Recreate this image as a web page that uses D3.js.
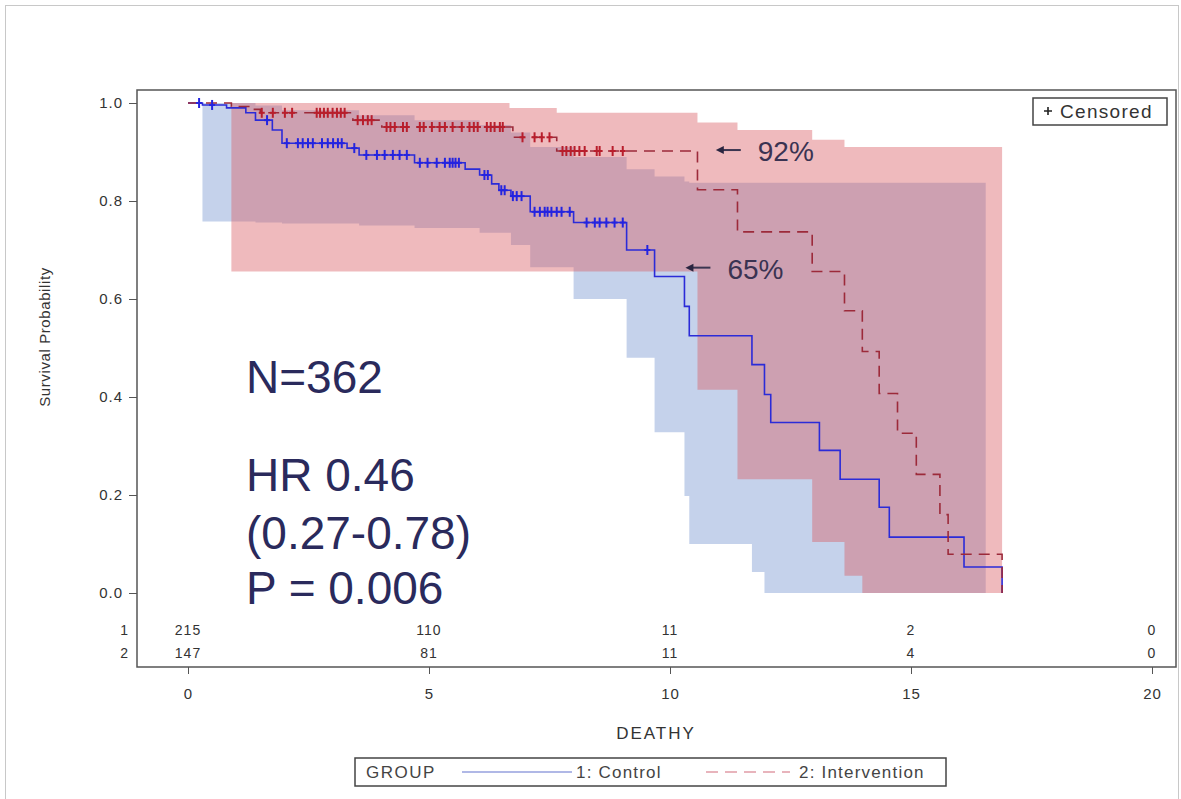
<!DOCTYPE html>
<html>
<head>
<meta charset="utf-8">
<script src="https://cdn.jsdelivr.net/npm/d3@7"></script>
<style>
  body { margin: 0; background: #fff; }
  svg { display: block; font-family: "Liberation Sans", Arial, sans-serif; }
</style>
</head>
<body>
<div id="chart"></div>
<script>
// Kaplan-Meier: survival by group, with confidence bands and at-risk table

// 1: Control (event times, survival after each event)
const controlTimes = [0, 0.3, 0.8, 1.2, 1.4, 1.75, 1.95, 3.3, 3.55, 4.7, 5.75, 6.05, 6.3, 6.45, 6.7, 7.1, 8.0, 9.1, 9.68, 10.3, 10.4, 11.7, 11.96, 12.09, 13.1, 13.53, 14.34, 14.55, 16.1, 16.89];
const controlSurv  = [1, 0.996, 0.99, 0.98, 0.965, 0.945, 0.918, 0.908, 0.894, 0.878, 0.865, 0.853, 0.835, 0.822, 0.81, 0.778, 0.756, 0.70, 0.646, 0.585, 0.525, 0.466, 0.405, 0.348, 0.291, 0.232, 0.175, 0.114, 0.053, 0];
const controlCensored = [0.23, 0.5, 1.64, 2.05, 2.28, 2.38, 2.49, 2.59, 2.78, 2.9, 3.01, 3.11, 3.19, 3.45, 3.7, 3.92, 4.08, 4.25, 4.39, 4.54, 4.81, 4.97, 5.16, 5.33, 5.43, 5.49, 5.55, 5.62, 6.15, 6.22, 6.5, 6.57, 6.74, 6.82, 6.92, 7.19, 7.3, 7.4, 7.46, 7.54, 7.65, 7.75, 7.92, 8.27, 8.44, 8.54, 8.68, 8.85, 9.02, 9.53];
const controlBandTimes = [0.3, 1.4, 1.95, 3.55, 4.7, 6.05, 6.7, 7.1, 8.0, 9.1, 9.68, 10.3, 10.4, 11.7, 11.96, 16.55];
const controlBandLower = [0.758, 0.756, 0.754, 0.75, 0.745, 0.735, 0.71, 0.665, 0.60, 0.48, 0.328, 0.198, 0.10, 0.043, 0, 0];
const controlBandUpper = [1.0, 0.995, 0.985, 0.975, 0.965, 0.955, 0.94, 0.91, 0.89, 0.865, 0.85, 0.84, 0.837, 0.837, 0.837, 0.837];

// 2: Intervention
const interventionTimes = [0, 0.9, 1.3, 1.5, 3.42, 4.02, 6.74, 7.65, 10.57, 11.4, 12.95, 13.62, 13.99, 14.34, 14.72, 15.11, 15.6, 15.77, 16.89];
const interventionSurv  = [1, 0.993, 0.987, 0.98, 0.965, 0.951, 0.93, 0.902, 0.823, 0.737, 0.656, 0.576, 0.493, 0.407, 0.326, 0.242, 0.16, 0.079, 0];
const interventionCensored = [1.53, 1.76, 2.01, 2.16, 2.67, 2.74, 2.82, 2.9, 3.0, 3.09, 3.17, 3.25, 3.52, 3.63, 3.73, 3.81, 4.12, 4.2, 4.29, 4.46, 4.54, 4.81, 4.89, 5.06, 5.22, 5.33, 5.49, 5.68, 5.84, 5.93, 6.01, 6.2, 6.28, 6.36, 6.47, 6.53, 6.94, 7.19, 7.34, 7.5, 7.77, 7.85, 7.94, 8.02, 8.12, 8.23, 8.48, 8.54, 8.81, 9.02];
const interventionBandTimes = [0.9, 6.67, 7.65, 10.57, 11.4, 12.95, 13.62, 13.99, 16.89];
const interventionBandLower = [0.656, 0.656, 0.656, 0.415, 0.232, 0.104, 0.035, 0, 0];
const interventionBandUpper = [1.0, 0.99, 0.98, 0.96, 0.945, 0.925, 0.91, 0.91, 0.91];

// at-risk table
const riskTimes = [0, 5, 10, 15, 20];
const riskControl = [215, 110, 11, 2, 0];
const riskIntervention = [147, 81, 11, 4, 0];

const xTicks = [0, 5, 10, 15, 20];
const yTicks = [0, 0.2, 0.4, 0.6, 0.8, 1.0];

// arrow annotations: label, time at arrow tip, survival level
const annotLabels = ['92%', '65%'];
const annotTimes = [10.95, 10.32];
const annotSurv = [0.904, 0.664];

const statLines = ['N=362', 'HR 0.46', '(0.27-0.78)', 'P = 0.006'];

const W = 1181, H = 799;
const frame = { left: 137, top: 90, right: 1176, bottom: 667 };

const x = d3.scaleLinear().domain([0, 20]).range([188, 1152]);
const y = d3.scaleLinear().domain([0, 1]).range([593, 103]);

const svg = d3.select('#chart').append('svg')
  .attr('width', W).attr('height', H);

// faint outer border
svg.append('rect')
  .attr('x', 5.5).attr('y', 5.5).attr('width', W - 8).attr('height', H + 10)
  .attr('fill', 'none').attr('stroke', '#c8c8c8');

const plot = svg.append('g');

function bandData(times, lo, hi) {
  return times.map((t, i) => ({ t, lo: lo[i], hi: hi[i] }));
}
const band = d3.area()
  .x(d => x(d.t)).y0(d => y(d.lo)).y1(d => y(d.hi))
  .curve(d3.curveStepAfter);

plot.append('path')
  .datum(bandData(controlBandTimes, controlBandLower, controlBandUpper))
  .attr('d', band)
  .attr('fill', '#9fb4dd').attr('fill-opacity', 0.6);

plot.append('path')
  .datum(bandData(interventionBandTimes, interventionBandLower, interventionBandUpper))
  .attr('d', band)
  .attr('fill', '#d85a62').attr('fill-opacity', 0.42);

const km = d3.line()
  .x(d => x(d[0])).y(d => y(d[1]))
  .curve(d3.curveStepAfter);

plot.append('path')
  .datum(d3.zip(controlTimes, controlSurv))
  .attr('d', km)
  .attr('fill', 'none').attr('stroke', '#2b2bd8').attr('stroke-width', 1.6);

plot.append('path')
  .datum(d3.zip(interventionTimes, interventionSurv))
  .attr('d', km)
  .attr('fill', 'none').attr('stroke', '#9c2a3a').attr('stroke-width', 1.6)
  .attr('stroke-dasharray', '11,7');

function survAt(times, surv, t) {
  const i = d3.bisectRight(times, t) - 1;
  return surv[Math.max(0, i)];
}

function censorMarks(times, surv, cens, color) {
  const g = plot.append('g').attr('stroke', color).attr('stroke-width', 2);
  cens.forEach(t => {
    const cx = x(t), cy = y(survAt(times, surv, t));
    g.append('line').attr('x1', cx).attr('x2', cx).attr('y1', cy - 5).attr('y2', cy + 5);
    g.append('line').attr('x1', cx - 3).attr('x2', cx + 3).attr('y1', cy).attr('y2', cy);
  });
}
censorMarks(controlTimes, controlSurv, controlCensored, '#2424e0');
censorMarks(interventionTimes, interventionSurv, interventionCensored, '#b81e2c');

// arrow annotations
annotLabels.forEach((lab, i) => {
  const tx = x(annotTimes[i]), ty = y(annotSurv[i]);
  svg.append('line')
    .attr('x1', tx + 4).attr('x2', tx + 25).attr('y1', ty).attr('y2', ty)
    .attr('stroke', '#3a3550').attr('stroke-width', 2);
  svg.append('path')
    .attr('d', `M${tx},${ty} L${tx + 8},${ty - 4} L${tx + 8},${ty + 4} Z`)
    .attr('fill', '#2a2540');
  svg.append('text')
    .attr('x', tx + 42).attr('y', ty + 11)
    .attr('font-size', 28).attr('fill', '#3a3352')
    .text(lab);
});

// stats text block
const statY = [393, 491, 549, 604];
statLines.forEach((s, i) => {
  svg.append('text')
    .attr('x', 246).attr('y', statY[i])
    .attr('font-size', 46).attr('fill', '#2a2a5c')
    .text(s);
});

// frame
svg.append('rect')
  .attr('x', frame.left).attr('y', frame.top)
  .attr('width', frame.right - frame.left).attr('height', frame.bottom - frame.top)
  .attr('fill', 'none').attr('stroke', '#555').attr('stroke-width', 1.5);

// axes
const yAxis = svg.append('g')
  .attr('transform', `translate(${frame.left},0)`)
  .call(d3.axisLeft(y).tickValues(yTicks).tickFormat(d3.format('.1f')).tickSize(8).tickPadding(6));
const xAxis = svg.append('g')
  .attr('transform', `translate(0,${frame.bottom})`)
  .call(d3.axisBottom(x).tickValues(xTicks).tickFormat(d3.format('d')).tickSize(7).tickPadding(14));
[yAxis, xAxis].forEach(g => {
  g.select('.domain').remove();
  g.selectAll('.tick line').attr('stroke', '#555');
  g.selectAll('.tick text')
    .attr('fill', '#333').attr('font-size', 15).attr('letter-spacing', 1)
    .attr('font-family', '"Liberation Sans", Arial, sans-serif');
});

// at-risk table
[riskControl, riskIntervention].forEach((row, r) => {
  const ry = 635 + r * 23;
  svg.append('text').attr('x', 128).attr('y', ry)
    .attr('text-anchor', 'end').attr('font-size', 14).attr('fill', '#333')
    .text(r + 1);
  row.forEach((n, i) => {
    svg.append('text').attr('x', x(riskTimes[i])).attr('y', ry)
      .attr('text-anchor', 'middle').attr('font-size', 14).attr('letter-spacing', 1)
      .attr('fill', '#333').text(n);
  });
});

// axis titles
svg.append('text')
  .attr('transform', 'translate(50,337) rotate(-90)')
  .attr('text-anchor', 'middle').attr('font-size', 15).attr('letter-spacing', 0.6)
  .attr('fill', '#333').text('Survival Probability');
svg.append('text')
  .attr('x', 656).attr('y', 739).attr('text-anchor', 'middle')
  .attr('font-size', 17).attr('letter-spacing', 2).attr('fill', '#333')
  .text('DEATHY');

// censored inset legend
const cl = svg.append('g');
cl.append('rect').attr('x', 1033).attr('y', 98).attr('width', 134).attr('height', 27)
  .attr('fill', '#fff').attr('stroke', '#444').attr('stroke-width', 1.5);
cl.append('path').attr('d', 'M1044,111 h8 M1048,107 v8')
  .attr('stroke', '#222').attr('stroke-width', 1.6);
cl.append('text').attr('x', 1060).attr('y', 118).attr('font-size', 19)
  .attr('letter-spacing', 1.3).attr('fill', '#333').text('Censored');

// group legend
const lg = svg.append('g');
lg.append('rect').attr('x', 355).attr('y', 758).attr('width', 591).attr('height', 28)
  .attr('fill', '#fff').attr('stroke', '#444').attr('stroke-width', 1.5);
lg.append('text').attr('x', 366).attr('y', 778).attr('font-size', 17)
  .attr('letter-spacing', 1.5).attr('fill', '#444').text('GROUP');
lg.append('line').attr('x1', 462).attr('x2', 572).attr('y1', 772).attr('y2', 772)
  .attr('stroke', '#b0b8e6').attr('stroke-width', 2);
lg.append('text').attr('x', 576).attr('y', 778).attr('font-size', 17)
  .attr('letter-spacing', 1.2).attr('fill', '#444').text('1: Control');
lg.append('line').attr('x1', 706).attr('x2', 790).attr('y1', 772).attr('y2', 772)
  .attr('stroke', '#e8b4bc').attr('stroke-width', 2).attr('stroke-dasharray', '12,7');
lg.append('text').attr('x', 799).attr('y', 778).attr('font-size', 17)
  .attr('letter-spacing', 1.2).attr('fill', '#444').text('2: Intervention');
</script>
</body>
</html>
